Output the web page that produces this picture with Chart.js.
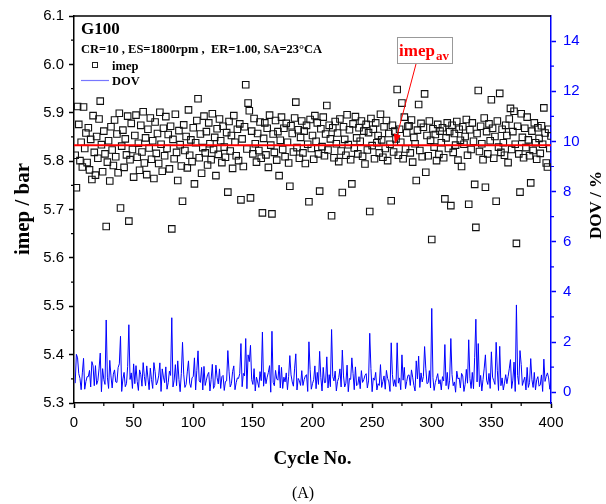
<!DOCTYPE html>
<html>
<head>
<meta charset="utf-8">
<script src="https://cdn.jsdelivr.net/npm/chart.js@4.4.0/dist/chart.umd.min.js"></script>
<style>
  html, body { margin: 0; padding: 0; background: #fff; }
  #wrap { width: 606px; height: 504px; }
</style>
</head>
<body>
<div id="wrap"><canvas id="c" width="606" height="504"></canvas></div>
<script>
// imep per cycle (bar), cycles 1..400
const imep = [
  5.812, 5.745, 5.913, 5.876, 5.801, 5.839, 5.788, 5.912, 5.826, 5.858,
  5.797, 5.869, 5.782, 5.845, 5.762, 5.894, 5.818, 5.771, 5.851, 5.806,
  5.887, 5.924, 5.834, 5.778, 5.862, 5.815, 5.665, 5.798, 5.842, 5.759,
  5.871, 5.823, 5.791, 5.885, 5.809, 5.856, 5.776, 5.899, 5.703, 5.831,
  5.864, 5.787, 5.846, 5.813, 5.893, 5.676, 5.803, 5.878, 5.824, 5.767,
  5.853, 5.895, 5.808, 5.837, 5.781, 5.874, 5.819, 5.902, 5.796, 5.848,
  5.772, 5.866, 5.827, 5.889, 5.804, 5.842, 5.764, 5.881, 5.816, 5.857,
  5.795, 5.901, 5.835, 5.779, 5.868, 5.811, 5.892, 5.826, 5.855, 5.784,
  5.872, 5.660, 5.845, 5.805, 5.897, 5.818, 5.760, 5.863, 5.834, 5.790,
  5.717, 5.875, 5.822, 5.851, 5.786, 5.906, 5.812, 5.844, 5.799, 5.869,
  5.753, 5.838, 5.884, 5.929, 5.807, 5.856, 5.775, 5.828, 5.893, 5.817,
  5.861, 5.792, 5.879, 5.836, 5.803, 5.898, 5.824, 5.849, 5.770, 5.867,
  5.814, 5.887, 5.842, 5.797, 5.872, 5.829, 5.808, 5.859, 5.736, 5.882,
  5.821, 5.853, 5.785, 5.894, 5.839, 5.811, 5.866, 5.801, 5.877, 5.720,
  5.846, 5.789, 5.871, 5.958, 5.825, 5.920, 5.904, 5.724, 5.862, 5.815,
  5.888, 5.836, 5.798, 5.857, 5.822, 5.881, 5.806, 5.693, 5.847, 5.879,
  5.813, 5.868, 5.787, 5.895, 5.833, 5.691, 5.856, 5.818, 5.884, 5.802,
  5.861, 5.770, 5.843, 5.891, 5.824, 5.868, 5.809, 5.878, 5.839, 5.796,
  5.748, 5.873, 5.857, 5.819, 5.889, 5.922, 5.828, 5.865, 5.806, 5.849,
  5.883, 5.817, 5.862, 5.795, 5.874, 5.835, 5.716, 5.886, 5.826, 5.853,
  5.804, 5.894, 5.841, 5.879, 5.815, 5.738, 5.867, 5.830, 5.891, 5.811,
  5.856, 5.915, 5.823, 5.874, 5.846, 5.687, 5.869, 5.807, 5.882, 5.836,
  5.858, 5.799, 5.887, 5.821, 5.735, 5.871, 5.845, 5.812, 5.896, 5.834,
  5.865, 5.803, 5.753, 5.877, 5.827, 5.892, 5.848, 5.815, 5.869, 5.841,
  5.883, 5.810, 5.862, 5.794, 5.876, 5.823, 5.859, 5.696, 5.888, 5.832,
  5.866, 5.805, 5.879, 5.838, 5.853, 5.817, 5.897, 5.844, 5.808, 5.871,
  5.826, 5.884, 5.801, 5.857, 5.835, 5.718, 5.874, 5.819, 5.862, 5.846,
  5.948, 5.812, 5.866, 5.839, 5.920, 5.805, 5.891, 5.825, 5.858, 5.872,
  5.873, 5.817, 5.885, 5.798, 5.849, 5.836, 5.760, 5.864, 5.917, 5.822,
  5.878, 5.809, 5.870, 5.939, 5.777, 5.853, 5.811, 5.883, 5.843, 5.638,
  5.867, 5.829, 5.855, 5.801, 5.876, 5.814, 5.862, 5.838, 5.869, 5.807,
  5.722, 5.848, 5.879, 5.826, 5.861, 5.708, 5.874, 5.818, 5.857, 5.833,
  5.882, 5.802, 5.866, 5.843, 5.789, 5.871, 5.835, 5.851, 5.886, 5.812,
  5.711, 5.865, 5.824, 5.879, 5.841, 5.752, 5.663, 5.857, 5.946, 5.820,
  5.872, 5.836, 5.803, 5.889, 5.746, 5.861, 5.815, 5.877, 5.842, 5.927,
  5.868, 5.806, 5.851, 5.717, 5.883, 5.829, 5.940, 5.818, 5.866, 5.838,
  5.812, 5.874, 5.853, 5.797, 5.887, 5.909, 5.824, 5.861, 5.903, 5.835,
  5.630, 5.872, 5.815, 5.736, 5.898, 5.849, 5.807, 5.868, 5.828, 5.891,
  5.844, 5.811, 5.755, 5.862, 5.822, 5.879, 5.838, 5.804, 5.869, 5.847,
  5.816, 5.873, 5.835, 5.910, 5.858, 5.796, 5.788, 5.866, 5.826, 5.852
];

// DOV per cycle (%)
const dov = [
  0.36, 1.51, 1.37, 0.74, 0.55, 0.10, 0.77, 1.35, 0.12, 0.43,
  0.62, 0.62, 0.87, 0.21, 1.22, 1.05, 0.26, 1.06, 0.31, 0.46,
  0.93, 1.56, 0.02, 0.94, 0.50, 0.31, 2.88, 0.60, 0.15, 1.27,
  0.65, 0.17, 0.72, 0.89, 0.41, 0.39, 0.98, 1.13, 2.23, 0.03,
  0.53, 0.79, 0.22, 0.34, 1.03, 2.69, 0.51, 0.77, 0.15, 1.13,
  0.34, 1.06, 0.43, 0.07, 0.89, 0.70, 0.24, 1.18, 0.63, 0.26,
  1.05, 0.57, 0.10, 0.96, 0.50, 0.15, 1.18, 0.82, 0.29, 0.41,
  0.65, 1.17, 0.03, 0.93, 0.60, 0.38, 1.01, 0.12, 0.38, 0.84,
  0.67, 2.97, 0.21, 0.48, 1.10, 0.26, 1.25, 0.51, 0.02, 0.74,
  1.99, 0.72, 0.19, 0.31, 0.81, 1.25, 0.36, 0.19, 0.58, 0.62,
  1.37, 0.09, 0.87, 1.65, 0.45, 0.39, 0.99, 0.09, 1.03, 0.27,
  0.48, 0.70, 0.79, 0.05, 0.51, 1.11, 0.15, 0.27, 1.08, 0.58,
  0.33, 0.93, 0.15, 0.62, 0.67, 0.07, 0.43, 0.45, 1.66, 0.84,
  0.21, 0.34, 0.82, 1.05, 0.10, 0.38, 0.57, 0.55, 0.75, 1.94,
  0.22, 0.75, 0.65, 2.14, 0.14, 1.49, 1.22, 1.87, 0.50, 0.31,
  0.94, 0.05, 0.60, 0.41, 0.19, 0.82, 0.46, 2.40, 0.24, 0.79,
  0.34, 0.60, 0.79, 1.06, 0.00, 2.43, 0.39, 0.26, 0.87, 0.53,
  0.48, 1.08, 0.17, 0.99, 0.15, 0.60, 0.41, 0.77, 0.10, 0.63,
  1.46, 0.69, 0.41, 0.24, 0.96, 1.53, 0.09, 0.55, 0.46, 0.27,
  0.86, 0.27, 0.50, 0.65, 0.70, 0.03, 2.01, 0.91, 0.12, 0.34,
  0.50, 1.05, 0.14, 0.79, 0.31, 1.63, 0.58, 0.05, 0.99, 0.38,
  0.39, 1.41, 0.17, 0.70, 0.22, 2.50, 0.62, 0.45, 0.84, 0.05,
  0.43, 0.58, 0.93, 0.21, 1.68, 0.65, 0.21, 0.36, 1.08, 0.02,
  0.55, 0.51, 1.37, 0.75, 0.10, 1.01, 0.26, 0.31, 0.62, 0.14,
  0.86, 0.39, 0.50, 0.67, 0.74, 0.17, 0.45, 2.35, 0.94, 0.02,
  0.57, 0.48, 0.79, 0.09, 0.34, 0.27, 1.10, 0.19, 0.43, 0.65,
  0.12, 0.87, 0.55, 0.41, 0.03, 1.97, 0.70, 0.24, 0.50, 0.22,
  1.97, 0.36, 0.57, 0.10, 1.49, 0.48, 0.99, 0.14, 0.43, 0.67,
  0.69, 0.27, 0.89, 0.60, 0.27, 0.05, 1.25, 0.53, 1.44, 0.19,
  0.77, 0.41, 0.63, 1.82, 0.96, 0.34, 0.38, 0.86, 0.17, 3.34,
  0.58, 0.07, 0.38, 0.55, 0.74, 0.33, 0.50, 0.09, 0.62, 0.45,
  1.90, 0.26, 0.79, 0.12, 0.48, 2.14, 0.70, 0.26, 0.41, 0.00,
  0.84, 0.53, 0.57, 0.17, 0.75, 0.65, 0.03, 0.31, 0.91, 0.36,
  2.09, 0.55, 0.15, 0.79, 0.14, 1.39, 2.91, 0.41, 1.94, 0.22,
  0.67, 0.05, 0.51, 0.96, 1.49, 0.48, 0.31, 0.75, 0.15, 1.61,
  0.60, 0.46, 0.31, 1.99, 0.86, 0.07, 1.83, 0.26, 0.57, 0.09,
  0.36, 0.70, 0.34, 0.62, 0.93, 1.30, 0.15, 0.48, 1.20, 0.03,
  3.48, 0.67, 0.31, 1.66, 1.11, 0.27, 0.45, 0.60, 0.09, 0.99,
  0.19, 0.38, 1.34, 0.50, 0.19, 0.79, 0.09, 0.50, 0.62, 0.24,
  0.29, 0.69, 0.03, 1.32, 0.43, 0.63, 0.77, 0.57, 0.12, 0.33
];

const imepAv = 5.833;          // average imep (red line)
const arrowCycle = 269;        // where the imep_av arrow lands

const xTicks = [0, 50, 100, 150, 200, 250, 300, 350, 400];
const xMinor = [25, 75, 125, 175, 225, 275, 325, 375];
const leftTicks = [5.3, 5.4, 5.5, 5.6, 5.7, 5.8, 5.9, 6.0, 6.1];
const leftMinor = [5.35, 5.45, 5.55, 5.65, 5.75, 5.85, 5.95, 6.05];
const rightTicks = [0, 2, 4, 6, 8, 10, 12, 14];
const rightMinor = [1, 3, 5, 7, 9, 11, 13];

const cycles = imep.map((_, i) => i + 1);

const SERIF = '"Liberation Serif", "Times New Roman", serif';
const SANS = '"Liberation Sans", Arial, sans-serif';
const BLUE = '#0000ff';

// frame, minor ticks, titles, legend and the imep_av callout
const decorations = {
  id: 'decorations',
  afterDraw(chart) {
    const ctx = chart.ctx;
    const a = chart.chartArea;
    const sx = chart.scales.x, sy = chart.scales.y, sy2 = chart.scales.y2;
    ctx.save();

    // top frame
    ctx.strokeStyle = '#000';
    ctx.lineWidth = 1.5;
    ctx.beginPath();
    ctx.moveTo(a.left, a.top);
    ctx.lineTo(a.right, a.top);
    ctx.stroke();

    // minor ticks
    ctx.lineWidth = 1.2;
    ctx.beginPath();
    xMinor.forEach(v => {
      const px = sx.getPixelForValue(v);
      ctx.moveTo(px, a.bottom);
      ctx.lineTo(px, a.bottom + 3);
    });
    leftMinor.forEach(v => {
      const py = sy.getPixelForValue(v);
      ctx.moveTo(a.left, py);
      ctx.lineTo(a.left - 3, py);
    });
    ctx.stroke();
    ctx.strokeStyle = BLUE;
    ctx.beginPath();
    rightMinor.forEach(v => {
      const py = sy2.getPixelForValue(v);
      ctx.moveTo(a.right, py);
      ctx.lineTo(a.right + 3, py);
    });
    ctx.stroke();

    // axis titles
    ctx.fillStyle = '#000';
    ctx.textAlign = 'center';
    ctx.textBaseline = 'middle';
    ctx.font = 'bold 21px ' + SERIF;
    ctx.save();
    ctx.translate(24, 209);
    ctx.rotate(-Math.PI / 2);
    ctx.fillText('imep / bar', 0, 0);
    ctx.restore();

    ctx.font = 'bold 17px ' + SERIF;
    ctx.save();
    ctx.translate(597, 205);
    ctx.rotate(-Math.PI / 2);
    ctx.fillText('DOV / %', 0, 0);
    ctx.restore();

    ctx.textBaseline = 'alphabetic';
    ctx.font = 'bold 19px ' + SERIF;
    ctx.fillText('Cycle No.', (a.left + a.right) / 2, 464);
    ctx.font = '16px ' + SERIF;
    ctx.fillText('(A)', 303, 498);

    // header text + legend
    ctx.textAlign = 'left';
    ctx.font = 'bold 17px ' + SERIF;
    ctx.fillText('G100', 81, 34);
    ctx.font = 'bold 12.5px ' + SERIF;
    ctx.fillText('CR=10 , ES=1800rpm ,  ER=1.00, SA=23\u00B0CA', 81, 53);
    ctx.fillText('imep', 112, 70);
    ctx.fillText('DOV', 112, 85);
    ctx.strokeStyle = '#222';
    ctx.lineWidth = 1;
    ctx.strokeRect(92.5, 62.5, 5, 5);
    ctx.strokeStyle = '#7777ff';
    ctx.lineWidth = 1.2;
    ctx.beginPath();
    ctx.moveTo(81, 80.5);
    ctx.lineTo(109, 80.5);
    ctx.stroke();

    // imep_av callout box
    ctx.fillStyle = '#fff';
    ctx.fillRect(397, 37, 55, 26);
    ctx.strokeStyle = '#999';
    ctx.lineWidth = 1;
    ctx.strokeRect(397.5, 37.5, 55, 26);
    ctx.fillStyle = '#ff0000';
    ctx.font = 'bold 17px ' + SERIF;
    ctx.fillText('imep', 399, 56);
    const w = ctx.measureText('imep').width;
    ctx.font = 'bold 13px ' + SERIF;
    ctx.fillText('av', 399 + w + 1, 60);

    // arrow to the average line
    const tx = sx.getPixelForValue(arrowCycle);
    const ty = sy.getPixelForValue(imepAv) - 1;
    const fx = 416, fy = 64;
    const ang = Math.atan2(ty - fy, tx - fx);
    ctx.strokeStyle = '#ff0000';
    ctx.lineWidth = 1;
    ctx.beginPath();
    ctx.moveTo(fx, fy);
    ctx.lineTo(tx - 8 * Math.cos(ang), ty - 8 * Math.sin(ang));
    ctx.stroke();
    ctx.beginPath();
    ctx.moveTo(tx, ty);
    ctx.lineTo(tx - 10 * Math.cos(ang) + 3.5 * Math.sin(ang), ty - 10 * Math.sin(ang) - 3.5 * Math.cos(ang));
    ctx.lineTo(tx - 10 * Math.cos(ang) - 3.5 * Math.sin(ang), ty - 10 * Math.sin(ang) + 3.5 * Math.cos(ang));
    ctx.closePath();
    ctx.fill();

    ctx.restore();
  }
};

const setTicks = list => scale => { scale.ticks = list.map(v => ({ value: v })); };

new Chart(document.getElementById('c'), {
  type: 'scatter',
  data: {
    datasets: [
      {
        label: 'imep_av',
        type: 'line',
        data: [{ x: 0, y: imepAv }, { x: 400, y: imepAv }],
        yAxisID: 'y',
        borderColor: '#ff0000',
        borderWidth: 2,
        pointRadius: 0,
        order: 0
      },
      {
        label: 'imep',
        data: cycles.map((c, i) => ({ x: c, y: imep[i] })),
        yAxisID: 'y',
        showLine: false,
        pointStyle: 'rect',
        pointRadius: 4.6,
        pointBorderWidth: 1.1,
        pointBorderColor: '#111',
        pointBackgroundColor: 'rgba(0,0,0,0)',
        order: 1
      },
      {
        label: 'DOV',
        type: 'line',
        data: cycles.map((c, i) => ({ x: c, y: dov[i] })),
        yAxisID: 'y2',
        borderColor: BLUE,
        borderWidth: 1,
        pointRadius: 0,
        tension: 0,
        order: 2
      }
    ]
  },
  options: {
    responsive: false,
    animation: false,
    devicePixelRatio: 1,
    layout: { padding: { top: 15, left: 0, right: 0, bottom: 0 } },
    plugins: { legend: { display: false }, tooltip: { enabled: false } },
    scales: {
      x: {
        type: 'linear',
        min: 0, max: 400,
        afterBuildTicks: setTicks(xTicks),
        afterFit: s => { s.height = 101; },
        grid: { drawOnChartArea: false, drawTicks: true, tickLength: 5, tickWidth: 1.5, tickColor: '#000' },
        border: { display: true, color: '#000', width: 1.5 },
        ticks: { font: { family: SANS, size: 15 }, color: '#000', padding: 6, maxRotation: 0, autoSkip: false }
      },
      y: {
        type: 'linear',
        position: 'left',
        min: 5.3, max: 6.1,
        afterBuildTicks: setTicks(leftTicks),
        afterFit: s => { s.width = 74; },
        grid: { drawOnChartArea: false, drawTicks: true, tickLength: 5, tickWidth: 1.5, tickColor: '#000' },
        border: { display: true, color: '#000', width: 1.5 },
        ticks: { font: { family: SANS, size: 15 }, color: '#000', padding: 5, callback: v => v.toFixed(1) }
      },
      y2: {
        type: 'linear',
        position: 'right',
        min: -0.43, max: 15,
        afterBuildTicks: setTicks(rightTicks),
        afterFit: s => { s.width = 55; },
        grid: { drawOnChartArea: false, drawTicks: true, tickLength: 5, tickWidth: 1.5, tickColor: BLUE },
        border: { display: true, color: BLUE, width: 1.5 },
        ticks: { font: { family: SANS, size: 15 }, color: BLUE, padding: 7, callback: v => String(v) }
      }
    }
  },
  plugins: [decorations]
});
</script>
</body>
</html>
